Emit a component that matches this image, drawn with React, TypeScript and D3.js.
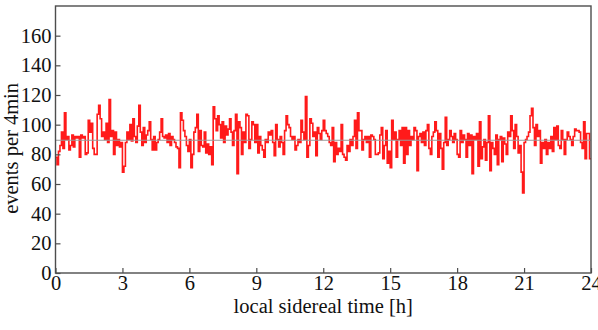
import * as d3 from 'd3';
import { useEffect, useRef } from 'react';

// events per 4 min bin, 15 bins per hour of local sidereal time
const counts = [
  78, 73, 82, 86, 95, 84, 108, 90, 92, 83, 86, 93, 85, 92, 91,
  92, 78, 93, 91, 92, 80, 81, 103, 95, 101, 84, 80, 80, 107, 113,
  104, 92, 95, 90, 101, 88, 117, 92, 96, 80, 95, 86, 90, 85, 88,
  68, 72, 88, 95, 90, 100, 89, 104, 92, 88, 99, 113, 95, 86, 98,
  88, 93, 96, 102, 90, 83, 92, 83, 88, 90, 95, 104, 92, 91, 93,
  88, 94, 86, 92, 90, 88, 85, 84, 71, 108, 103, 96, 92, 86, 82,
  90, 71, 80, 95, 98, 107, 82, 96, 86, 85, 95, 81, 87, 80, 85,
  73, 112, 104, 96, 106, 100, 91, 102, 88, 99, 93, 97, 104, 95, 86,
  96, 107, 67, 102, 98, 80, 95, 88, 107, 106, 84, 90, 102, 100, 88,
  100, 81, 92, 86, 83, 78, 90, 88, 95, 93, 96, 88, 79, 100, 90,
  85, 92, 88, 80, 96, 106, 100, 98, 92, 90, 92, 83, 86, 90, 88,
  103, 95, 90, 119, 78, 86, 104, 101, 92, 95, 79, 98, 94, 90, 96,
  103, 96, 94, 92, 88, 86, 98, 75, 88, 80, 84, 82, 100, 80, 78,
  76, 86, 82, 90, 86, 92, 103, 84, 108, 96, 96, 83, 90, 92, 88,
  92, 78, 93, 92, 90, 80, 80, 81, 93, 98, 77, 86, 96, 74, 82,
  71, 103, 90, 95, 78, 90, 96, 86, 98, 74, 98, 80, 96, 86, 92,
  90, 98, 96, 69, 92, 94, 88, 95, 86, 96, 100, 84, 80, 92, 95,
  102, 96, 78, 94, 84, 70, 88, 105, 86, 90, 96, 92, 88, 94, 90,
  80, 78, 96, 88, 93, 90, 78, 94, 86, 93, 67, 92, 90, 94, 72,
  102, 77, 85, 90, 76, 88, 106, 69, 88, 84, 80, 93, 73, 90, 92,
  75, 91, 87, 80, 95, 92, 106, 96, 84, 100, 92, 81, 86, 68, 54,
  88, 90, 92, 95, 106, 111, 98, 86, 100, 92, 96, 74, 88, 84, 90,
  80, 88, 84, 92, 82, 98, 90, 99, 86, 84, 96, 90, 80, 90, 95,
  92, 90, 86, 92, 97, 96, 96, 95, 88, 84, 102, 77, 94, 94, 77,
];
const meanLevel = 89.5;
const xTicks = [0, 3, 6, 9, 12, 15, 18, 21, 24];
const yTicks = [0, 20, 40, 60, 80, 100, 120, 140, 160];

const App = () => {
  const svgRef = useRef(null);

  useEffect(() => {
    const width = 598;
    const height = 330;
    const marginLeft = 55.5;
    const marginRight = 7;
    const marginTop = 6;
    const marginBottom = 57;
    const font = '"Liberation Serif", serif';
    const fontSize = 20.5;
    const frame = '#4d4d4d';

    const xScale = d3.scaleLinear([0, 24], [marginLeft, width - marginRight]);
    const yScale = d3.scaleLinear([0, 180], [height - marginBottom, marginTop]);

    const binWidth = 24 / counts.length;
    const pts = counts.map((c, i) => [i * binWidth, c]);
    pts.push([24, counts[counts.length - 1]]);

    const line = d3
      .line()
      .curve(d3.curveStepAfter)
      .x((d) => xScale(d[0]))
      .y((d) => yScale(d[1]));

    const svg = d3.select(svgRef.current);
    svg.selectAll('*').remove();

    // histogram steps
    svg.append('path')
      .attr('fill', 'none')
      .attr('stroke', '#ff1a1a')
      .attr('stroke-width', 1.6)
      .attr('d', line(pts));

    // mean level
    svg.append('line')
      .attr('x1', xScale(0))
      .attr('x2', xScale(24))
      .attr('y1', yScale(meanLevel))
      .attr('y2', yScale(meanLevel))
      .attr('stroke', '#9a9a9a')
      .attr('stroke-width', 1.2);

    // y axis (inward ticks)
    svg.append('g')
      .attr('transform', `translate(${marginLeft},0)`)
      .call(d3.axisLeft(yScale).tickValues(yTicks).tickSizeInner(-5).tickSizeOuter(0).tickPadding(4))
      .call((g) => g.select('.domain').remove())
      .call((g) => g.selectAll('.tick line').attr('stroke', frame).attr('stroke-width', 1.2))
      .call((g) => g.selectAll('.tick text')
        .attr('font-size', fontSize)
        .attr('font-family', font)
        .attr('fill', '#111'));

    // x axis (inward ticks)
    svg.append('g')
      .attr('transform', `translate(0,${height - marginBottom})`)
      .call(d3.axisBottom(xScale).tickValues(xTicks).tickSizeInner(-5).tickSizeOuter(0).tickPadding(2))
      .call((g) => g.select('.domain').remove())
      .call((g) => g.selectAll('.tick line').attr('stroke', frame).attr('stroke-width', 1.2))
      .call((g) => g.selectAll('.tick text')
        .attr('font-size', fontSize)
        .attr('font-family', font)
        .attr('fill', '#111'));

    // frame
    svg.append('rect')
      .attr('x', xScale(0))
      .attr('y', yScale(180))
      .attr('width', xScale(24) - xScale(0))
      .attr('height', yScale(0) - yScale(180))
      .attr('fill', 'none')
      .attr('stroke', frame)
      .attr('stroke-width', 1.4);

    svg.append('text')
      .attr('x', (xScale(0) + xScale(24)) / 2)
      .attr('y', 313)
      .attr('text-anchor', 'middle')
      .attr('font-size', fontSize)
      .attr('font-family', font)
      .attr('fill', '#111')
      .text('local sidereal time [h]');

    svg.append('text')
      .attr('transform', `translate(18,${yScale(84)}) rotate(-90)`)
      .attr('text-anchor', 'middle')
      .attr('font-size', fontSize)
      .attr('font-family', font)
      .attr('fill', '#111')
      .text('events per 4min');
  }, []);

  return (
    <svg
      ref={svgRef}
      width={598}
      height={330}
      style={{ position: 'absolute', left: 0, top: 0, background: '#fff' }}
    />
  );
};

export default App;
